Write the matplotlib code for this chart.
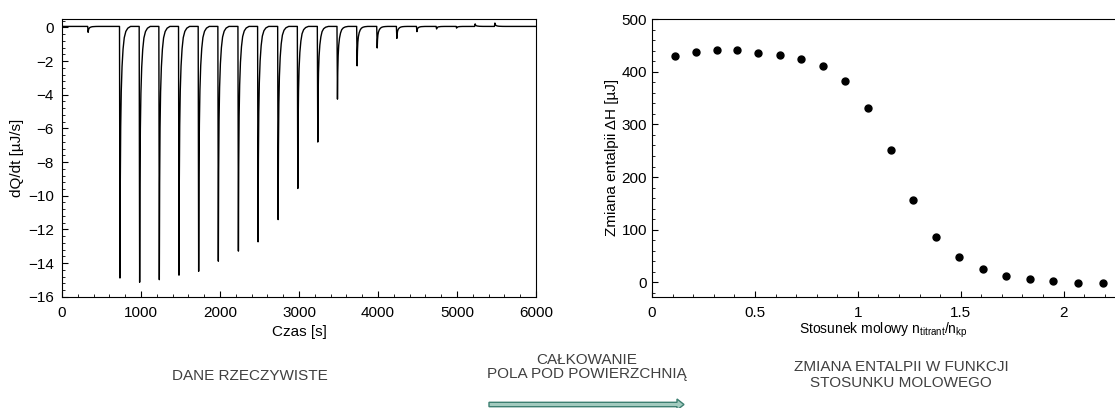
import numpy as np
import matplotlib.pyplot as plt
from matplotlib.ticker import MultipleLocator
from matplotlib.patches import FancyArrow

plt.rcParams['font.family'] = ['Liberation Sans', 'DejaVu Sans']
plt.rcParams['font.size'] = 11

# Thermogram: times of the injection peaks [s] and their heights [uJ/s]
peak_times = [331, 734, 983, 1232, 1481, 1730, 1979, 2233, 2482, 2736, 2985,
              3238, 3487, 3736, 3990, 4239, 4493, 4742, 4995, 5230, 5480]
peak_heights = [-0.35, -14.95, -15.2, -15.05, -14.78, -14.55, -13.95, -13.35,
                -12.8, -11.48, -9.63, -6.87, -4.32, -2.34, -1.28, -0.71,
                -0.31, -0.15, -0.1, 0.15, 0.2]
baseline = 0.06

# shape of a single injection peak (time after injection, fraction of height)
peak_offsets = [-8, 0, 6, 10, 15, 22, 32, 45, 60, 80, 105, 140]
peak_fraction = [0, 0, 1.0, 0.62, 0.4, 0.26, 0.16, 0.09, 0.045, 0.02, 0.007, 0]

# Integrated heats vs molar ratio
molar_ratio = [0.112, 0.213, 0.314, 0.415, 0.514, 0.621, 0.726, 0.831, 0.937,
               1.048, 1.159, 1.269, 1.380, 1.491, 1.607, 1.721, 1.838, 1.950,
               2.071, 2.192]
delta_h = [429, 438, 442, 441, 436, 431, 425, 410, 383, 331, 251, 156, 86,
           48, 25, 12, 6, 2.5, -1, -1]

# build the trace vertex by vertex
t = [0.0]
q = [baseline]
for tp, h in zip(peak_times, peak_heights):
    for off, fr in zip(peak_offsets, peak_fraction):
        t.append(tp - 6 + off)
        q.append(baseline + h * fr)
t.append(6000.0)
q.append(baseline)

fig = plt.figure(figsize=(11.15, 4.08), dpi=100)

ax1 = fig.add_axes([0.0556, 0.2728, 0.4251, 0.6806])
ax1.plot(t, q, color='black', lw=1.0)
ax1.set_xlim(0, 6000)
ax1.set_ylim(-16, 0.5)
ax1.xaxis.set_major_locator(MultipleLocator(1000))
ax1.xaxis.set_minor_locator(MultipleLocator(200))
ax1.yaxis.set_major_locator(MultipleLocator(2))
ax1.yaxis.set_minor_locator(MultipleLocator(0.4))
ax1.set_xlabel('Czas [s]', labelpad=3)
ax1.set_ylabel('dQ/dt [µJ/s]', labelpad=3)

ax2 = fig.add_axes([0.5848, 0.2728, 0.4152, 0.6806])
ax2.plot(molar_ratio, delta_h, 'o', color='black', ms=5)
ax2.set_xlim(0, 2.25)
ax2.set_ylim(-27, 500)
ax2.xaxis.set_major_locator(MultipleLocator(0.5))
ax2.xaxis.set_minor_locator(MultipleLocator(0.1))
ax2.yaxis.set_major_locator(MultipleLocator(100))
ax2.yaxis.set_minor_locator(MultipleLocator(20))
ax2.xaxis.set_major_formatter(plt.FuncFormatter(lambda v, p: f'{v:g}'))
ax2.set_xlabel('Stosunek molowy n$_{\\mathregular{titrant}}$/n$_{\\mathregular{kp}}$',
               labelpad=0, fontsize=10)
ax2.set_ylabel('Zmiana entalpii ΔH [µJ]', labelpad=2)
ax2.spines['right'].set_visible(False)

for ax in (ax1, ax2):
    ax.tick_params(which='both', direction='in', labelsize=11,
                   top=False, right=False)
    ax.tick_params(which='major', length=4)
    ax.tick_params(which='minor', length=2.5)
    ax.tick_params(axis='x', pad=7)
ax1.tick_params(axis='y', pad=6)
ax2.tick_params(axis='y', pad=3.5)

grey = '#404040'
fig.text(0.224, 1 - 376 / 408, 'DANE RZECZYWISTE', ha='center', va='center',
         fontsize=11, color=grey)
fig.text(0.526, 1 - 367 / 408, 'CAŁKOWANIE\nPOLA POD POWIERZCHNIĄ',
         ha='center', va='center', fontsize=11, color=grey, linespacing=1.05)
fig.text(0.808, 1 - 375 / 408, 'ZMIANA ENTALPII W FUNKCJI\nSTOSUNKU MOLOWEGO',
         ha='center', va='center', fontsize=11, color=grey, linespacing=1.2)

arrow = FancyArrow(489 / 1115, 1 - 404.5 / 408, 195 / 1115, 0,
                   width=4.4 / 408, head_width=11 / 408, head_length=7 / 1115,
                   length_includes_head=True, transform=fig.transFigure,
                   facecolor='#a3cbbf', edgecolor='#3d7f71', lw=1)
fig.patches.append(arrow)

fig.savefig('out.png', dpi=100)
